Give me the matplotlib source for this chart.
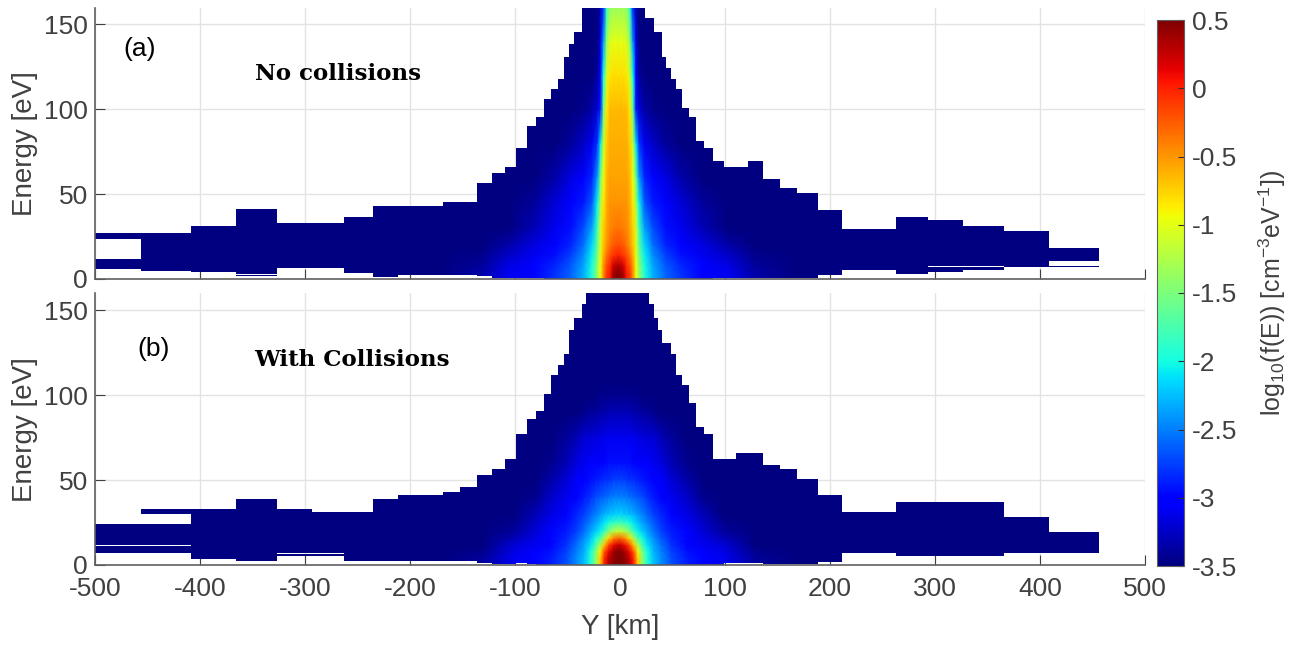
"""
Electron energy distribution along Y, without and with collisions.
Two stacked panels with a shared jet colour scale.
"""
import numpy as np
from matplotlib import pyplot as plt
from matplotlib.patches import PathPatch
from matplotlib.path import Path
from matplotlib.transforms import Affine2D

plt.rcParams['font.family'] = ['Liberation Sans', 'DejaVu Sans']
plt.rcParams['mathtext.default'] = 'regular'
plt.rcParams['axes.unicode_minus'] = False

W, H = 1300, 646
V_MIN, V_MAX = -3.5, 0.5
TEXT_COL = '#404040'

# Y bin edges [km], the same on both sides of zero
RIGHT_EDGES = [24, 28, 32, 36, 40, 44, 48.6, 53.7, 59.4, 65.6, 72.5, 80.3, 89, 99, 110, 122.3,
               136, 152, 169, 189, 211, 235, 262.4, 293, 327, 365.5, 408.5, 456.5, 500]

# envelope of the populated cells per Y bin [eV], left to right (0, 0 = empty bin)
A_TOP = [27, 27, 31.5, 41, 32.8, 32.8, 36.8, 43.2, 43.2, 43.2, 45.4, 45.6, 56.4, 62.7, 65.9, 77.3,
         90.4, 95.6, 106, 112, 118, 131, 138.4, 145.7, 145.7, 160, 160, 160,
         160,
         153.8, 153.8, 145.7, 145.7, 131, 124.3, 118, 112, 100.7, 95.6, 81.4, 77.3, 69.4, 65.9, 65.9,
         69.4, 59.2, 53.4, 50.5, 40.9, 29.7, 29.7, 36.8, 34.8, 31.3, 28.1, 18.3, 0]
A_LOW = [5.6, 4.7, 4.1, 1.7, 6.3, 6.3, 3.7, 1.2, 2.2, 2.2, 2.5, 2.5, 1.8, 0.4, 0.4, 0.4,
         0.4, 0.4, 0.2, 0.2, 0, 0, 0, 0, 0, 0, 0, 0,
         0,
         0, 0, 0, 0, 0, 0, 0, 0, 0, 0, 0.2, 0.2, 0.3, 0.3, 0.4,
         0.4, 0.4, 0.8, 0.8, 2.5, 5.1, 5.1, 2.9, 4.1, 5.3, 6.9, 7.2, 0]
B_TOP = [24.2, 33, 33, 38.7, 33, 31.4, 31.4, 38.7, 41, 41, 43.2, 45.8, 53.2, 56.4, 62.6, 77.2,
         85.8, 90.7, 100.8, 112, 118, 124.3, 138.3, 145.7, 145.7, 153.6, 160, 160,
         160,
         160, 153.6, 145.7, 138.3, 131, 131, 124.3, 112, 106, 95.7, 81.3, 77.2, 62.6, 62.6, 65.8,
         65.8, 59.1, 56.4, 50.7, 41, 31.4, 31.4, 36.9, 36.9, 36.9, 28.3, 19.4, 0]
B_LOW = [7.3, 7.3, 3.7, 2.4, 5.5, 5.5, 2.4, 2.4, 2.4, 2.4, 2.4, 2.4, 1.4, 0.3, 0.3, 0.9,
         0.5, 0, 0, 0, 0, 0, 0, 0, 0, 0, 0, 0,
         0,
         0, 0, 0, 0, 0, 0, 0, 0, 0, 0, 0, 0, 0, 0.9, 0.9,
         0.9, 0.3, 0.3, 0.5, 1.8, 7, 7, 5.1, 5.5, 5.5, 6.9, 6.9, 0]

# empty stretches inside the envelope: Y from, Y to, E from, E to
A_GAPS = [(-500, -456.5, 11.8, 23.8), (-365.5, -327, 2.3, 2.8),
          (293, 365.5, 6.8, 7.6), (408.5, 456.5, 7.6, 10.8)]
B_GAPS = [(-500, -408.5, 11.0, 11.9), (-456.5, -408.5, 24.2, 29.9), (-327, -262.4, 6.2, 6.9)]

# log10 f(E), by distance from the core line [km] and energy [eV]
A_CORE_Y = -1.7
A_OFFSETS = [0, 5, 8, 11, 14, 17, 20, 25, 33, 45, 60, 80, 105, 130, 170]
A_ENERGY = [0, 3, 8, 14, 20, 30, 45, 60, 80, 100, 120, 140, 160]
A_VALUES = [
    [0.50, 0.35, 0.00, -0.10, -0.45, -0.95, -1.40, -1.95, -2.30, -2.60, -2.80, -3.00, -3.10, -3.35, -3.5],
    [0.50, 0.35, 0.00, -0.10, -0.45, -0.95, -1.40, -1.95, -2.30, -2.60, -2.80, -3.00, -3.10, -3.35, -3.5],
    [0.35, 0.20, -0.05, -0.20, -0.50, -0.95, -1.45, -2.00, -2.35, -2.65, -2.85, -3.00, -3.15, -3.40, -3.5],
    [0.00, -0.10, -0.20, -0.35, -0.60, -1.00, -1.55, -2.05, -2.45, -2.75, -2.95, -3.10, -3.25, -3.45, -3.5],
    [-0.20, -0.25, -0.35, -0.50, -0.70, -1.05, -1.65, -2.15, -2.55, -2.85, -3.00, -3.15, -3.35, -3.50, -3.5],
    [-0.35, -0.40, -0.45, -0.55, -0.75, -1.10, -1.80, -2.35, -2.70, -2.95, -3.10, -3.30, -3.50, -3.50, -3.5],
    [-0.50, -0.50, -0.50, -0.60, -0.85, -1.30, -2.05, -2.65, -2.90, -3.05, -3.20, -3.40, -3.50, -3.50, -3.5],
    [-0.55, -0.55, -0.55, -0.65, -0.95, -1.60, -2.40, -2.85, -3.00, -3.15, -3.35, -3.50, -3.50, -3.50, -3.5],
    [-0.60, -0.60, -0.60, -0.75, -1.15, -2.10, -2.80, -3.10, -3.25, -3.40, -3.50, -3.50, -3.50, -3.50, -3.5],
    [-0.65, -0.65, -0.65, -0.85, -1.60, -2.90, -3.20, -3.35, -3.45, -3.50, -3.50, -3.50, -3.50, -3.50, -3.5],
    [-0.80, -0.80, -0.85, -1.10, -2.00, -3.05, -3.40, -3.50, -3.50, -3.50, -3.50, -3.50, -3.50, -3.50, -3.5],
    [-1.00, -1.00, -1.05, -1.40, -2.40, -3.15, -3.50, -3.50, -3.50, -3.50, -3.50, -3.50, -3.50, -3.50, -3.5],
    [-1.35, -1.35, -1.40, -1.90, -2.80, -3.30, -3.50, -3.50, -3.50, -3.50, -3.50, -3.50, -3.50, -3.50, -3.5],
]

B_CORE_Y = -1.0
B_OFFSETS = [0, 5, 10, 14, 18, 22, 27, 33, 40, 50, 65, 80, 100, 130, 170]
B_ENERGY = [0, 4, 8, 12, 16, 20, 25, 30, 40, 50, 60, 75, 90, 100, 110, 160]
B_VALUES = [
    [0.50, 0.45, 0.30, 0.00, -0.75, -1.40, -1.95, -2.25, -2.45, -2.70, -2.90, -3.00, -3.10, -3.40, -3.5],
    [0.50, 0.45, 0.25, -0.05, -0.75, -1.40, -1.95, -2.25, -2.45, -2.70, -2.90, -3.00, -3.10, -3.40, -3.5],
    [0.50, 0.40, 0.10, -0.25, -0.90, -1.50, -2.00, -2.30, -2.50, -2.75, -2.95, -3.05, -3.15, -3.45, -3.5],
    [0.25, 0.10, -0.20, -0.70, -1.30, -1.75, -2.10, -2.35, -2.55, -2.80, -3.00, -3.10, -3.20, -3.50, -3.5],
    [-0.30, -0.45, -0.80, -1.30, -1.75, -2.00, -2.25, -2.45, -2.65, -2.85, -3.00, -3.15, -3.30, -3.50, -3.5],
    [-1.15, -1.25, -1.50, -1.85, -2.05, -2.20, -2.35, -2.55, -2.75, -2.90, -3.05, -3.20, -3.40, -3.50, -3.5],
    [-1.80, -1.85, -2.00, -2.10, -2.25, -2.35, -2.50, -2.65, -2.80, -2.95, -3.10, -3.25, -3.45, -3.50, -3.5],
    [-2.15, -2.20, -2.25, -2.30, -2.40, -2.50, -2.60, -2.75, -2.85, -3.00, -3.15, -3.30, -3.50, -3.50, -3.5],
    [-2.50, -2.50, -2.55, -2.60, -2.65, -2.70, -2.80, -2.90, -3.00, -3.10, -3.25, -3.45, -3.50, -3.50, -3.5],
    [-2.75, -2.75, -2.80, -2.80, -2.85, -2.90, -2.95, -3.00, -3.05, -3.20, -3.35, -3.50, -3.50, -3.50, -3.5],
    [-2.95, -2.95, -2.95, -3.00, -3.00, -3.05, -3.05, -3.10, -3.15, -3.30, -3.45, -3.50, -3.50, -3.50, -3.5],
    [-3.10, -3.10, -3.10, -3.10, -3.15, -3.15, -3.20, -3.20, -3.30, -3.40, -3.50, -3.50, -3.50, -3.50, -3.5],
    [-3.30, -3.30, -3.30, -3.35, -3.35, -3.40, -3.40, -3.45, -3.50, -3.50, -3.50, -3.50, -3.50, -3.50, -3.5],
    [-3.45, -3.45, -3.45, -3.45, -3.45, -3.50, -3.50, -3.50, -3.50, -3.50, -3.50, -3.50, -3.50, -3.50, -3.5],
    [-3.50, -3.50, -3.50, -3.50, -3.50, -3.50, -3.50, -3.50, -3.50, -3.50, -3.50, -3.50, -3.50, -3.50, -3.5],
    [-3.50, -3.50, -3.50, -3.50, -3.50, -3.50, -3.50, -3.50, -3.50, -3.50, -3.50, -3.50, -3.50, -3.50, -3.5],
]

Y_TICKS = [0, 50, 100, 150]
X_TICKS = [-500, -400, -300, -200, -100, 0, 100, 200, 300, 400, 500]
CBAR_TICKS = [0.5, 0, -0.5, -1, -1.5, -2, -2.5, -3, -3.5]
CBAR_LABELS = ['0.5', '0', '-0.5', '-1', '-1.5', '-2', '-2.5', '-3', '-3.5']


def px_axes(fig, left, top, right, bottom):
    """ Add an axes given by its pixel box, measured from the top left of the image. """
    return fig.add_axes([left / W, 1 - bottom / H, (right - left) / W, (bottom - top) / H])


def envelope_path(edges, low, top, gaps):
    """ Compound path of all the populated rectangles, leaving out the gaps. """
    rects = []
    for i in range(len(low)):
        if top[i] <= low[i]:
            continue
        pieces = [(edges[i], edges[i + 1], low[i], top[i])]
        for y0, y1, e0, e1 in gaps:
            new_pieces = []
            for x0, x1, lo, hi in pieces:
                if x0 >= y0 and x1 <= y1 and lo < e1 and hi > e0:
                    if lo < e0:
                        new_pieces.append((x0, x1, lo, e0))
                    if hi > e1:
                        new_pieces.append((x0, x1, e1, hi))
                else:
                    new_pieces.append((x0, x1, lo, hi))
            pieces = new_pieces
        rects.extend(pieces)
    paths = [Path.unit_rectangle().transformed(Affine2D().scale(x1 - x0, hi - lo).translate(x0, lo))
             for x0, x1, lo, hi in rects]
    return Path.make_compound_path(*paths)


def draw_panel(ax, edges, low, top, gaps, core_y, offsets, energy, values):
    cmap = plt.get_cmap('jet')
    patch = PathPatch(envelope_path(edges, low, top, gaps), facecolor=cmap(0.0), edgecolor='none', zorder=1)
    ax.add_patch(patch)

    # mirror the half table about the core line
    offsets = np.array(offsets, dtype=float)
    values = np.array(values)
    y = core_y + np.r_[-offsets[:0:-1], offsets]
    c = np.c_[values[:, :0:-1], values]
    mesh = ax.pcolormesh(y, energy, c, shading='gouraud', cmap=cmap, vmin=V_MIN, vmax=V_MAX, zorder=2)
    mesh.set_clip_path(patch)

    ax.set_xlim(-500, 500)
    ax.set_ylim(0, 160)
    ax.set_xticks(X_TICKS)
    ax.set_yticks(Y_TICKS)
    ax.grid(True, color='#e3e3e3', linewidth=1)
    ax.set_axisbelow(True)
    ax.spines['top'].set_visible(False)
    ax.spines['right'].set_visible(False)
    for side in ['left', 'bottom']:
        ax.spines[side].set_color('#606060')
        ax.spines[side].set_linewidth(1.2)
    ax.tick_params(direction='in', length=7, width=0.8, color='#404040', labelsize=19,
                   labelcolor=TEXT_COL)
    ax.tick_params(axis='x', pad=9)
    ax.tick_params(axis='y', pad=5)
    ax.set_ylabel('Energy [eV]', fontsize=20, color=TEXT_COL, va='center')
    ax.yaxis.set_label_coords(-(95 - 25) / 1050, 0.5)
    return mesh


fig = plt.figure(figsize=(W / 100, H / 100), dpi=100)
edges = [-e for e in RIGHT_EDGES[::-1]] + RIGHT_EDGES

ax_a = px_axes(fig, 95, 7.5, 1145, 279)
mesh = draw_panel(ax_a, edges, A_LOW, A_TOP, A_GAPS, A_CORE_Y, A_OFFSETS, A_ENERGY, A_VALUES)
ax_a.tick_params(labelbottom=False)
ax_a.text(-473, 135.5, '(a)', fontsize=19, color='black', va='center', zorder=5)
ax_a.text(-348, 121, 'No collisions', fontsize=16.5, family='DejaVu Serif', weight='bold',
          color='black', va='center', zorder=5)

ax_b = px_axes(fig, 95, 293.5, 1145, 565)
draw_panel(ax_b, edges, B_LOW, B_TOP, B_GAPS, B_CORE_Y, B_OFFSETS, B_ENERGY, B_VALUES)
ax_b.set_xlabel('Y [km]', fontsize=20, color=TEXT_COL, va='center')
ax_b.xaxis.set_label_coords(0.5, -(627 - 565) / 271.5)
ax_b.text(-459.5, 127, '(b)', fontsize=19, color='black', va='center', zorder=5)
ax_b.text(-348, 121, 'With Collisions', fontsize=16.5, family='DejaVu Serif', weight='bold',
          color='black', va='center', zorder=5)

cax = px_axes(fig, 1157, 20, 1184, 566)
cbar = fig.colorbar(mesh, cax=cax)
cbar.set_ticks(CBAR_TICKS)
cbar.set_ticklabels(CBAR_LABELS)
cbar.ax.tick_params(direction='in', length=4, width=0.8, color='#303030', labelsize=19,
                    labelcolor=TEXT_COL, pad=6)
cbar.outline.set_edgecolor('#606060')
cbar.outline.set_linewidth(0.8)
cbar.set_label('log$_{10}$(f(E)) [cm$^{-3}$eV$^{-1}$])', fontsize=18, color=TEXT_COL, va='center')
cbar.ax.yaxis.set_label_coords((1272 - 1157) / 27, 0.5)

fig.savefig('out.png', dpi=100, facecolor='white')
